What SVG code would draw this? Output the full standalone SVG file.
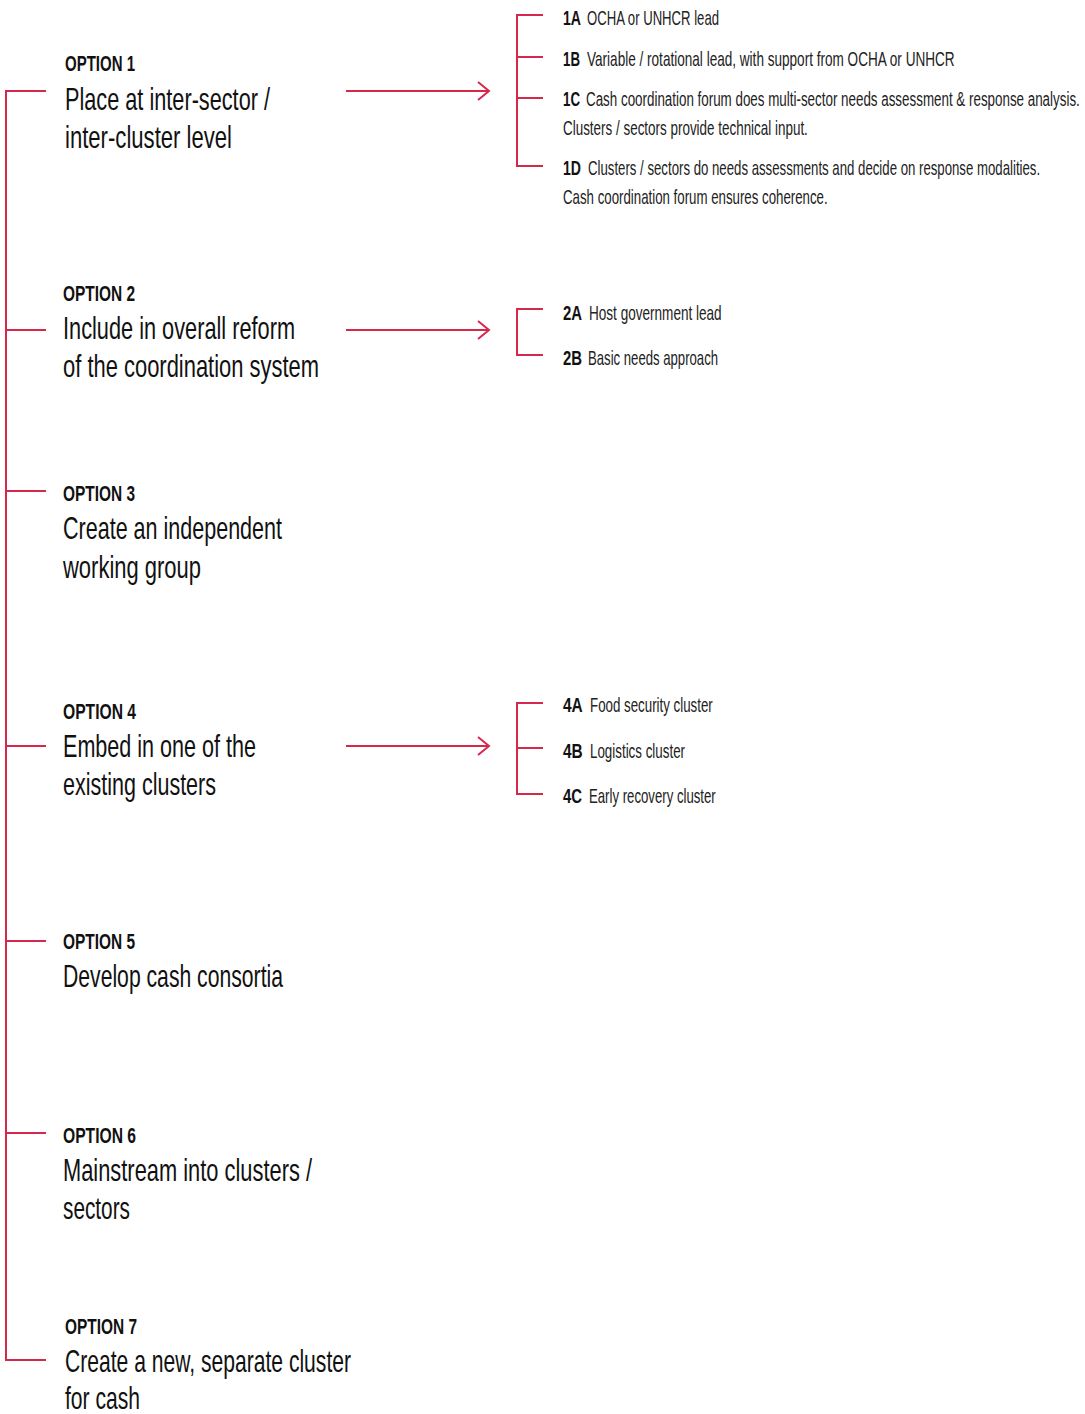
<svg xmlns="http://www.w3.org/2000/svg" width="1085" height="1414" viewBox="0 0 1085 1414">
<style>
.ln{stroke:#d6274c;stroke-width:2;fill:none}
.hd{font-family:"Liberation Sans",Arial,sans-serif;font-weight:bold;font-size:22px;fill:#111}
.tt{font-family:"Liberation Sans",Arial,sans-serif;font-size:32px;fill:#111}
.lb{font-family:"Liberation Sans",Arial,sans-serif;font-weight:bold;font-size:21px;fill:#111}
.st{font-family:"Liberation Sans",Arial,sans-serif;font-size:21px;fill:#222}
</style>
<defs>
<marker id="arr" markerUnits="userSpaceOnUse" markerWidth="14" markerHeight="22" refX="12" refY="10" orient="auto">
<path d="M1,1 L12,10 L1,19" fill="none" stroke="#d6274c" stroke-width="2"/>
</marker>
</defs>
<rect width="1085" height="1414" fill="#fff"/>
<g id="connectors">
<path class="ln" d="M46,91 H6 V1360 H46"/>
<path class="ln" d="M6,330 H46 M6,491 H46 M6,746 H46 M6,941 H46 M6,1133 H46"/>
<line class="ln" x1="346" y1="91" x2="489" y2="91" marker-end="url(#arr)"/>
<line class="ln" x1="346" y1="330" x2="489" y2="330" marker-end="url(#arr)"/>
<line class="ln" x1="346" y1="746" x2="489" y2="746" marker-end="url(#arr)"/>
<path class="ln" d="M543,15 H517 V166 H543 M517,57 H543 M517,98 H543"/>
<path class="ln" d="M543,309 H517 V355 H543"/>
<path class="ln" d="M543,703 H517 V794 H543 M517,748 H543"/>
</g>
<g id="option1">
<text class="hd" x="65" y="71" textLength="70" lengthAdjust="spacingAndGlyphs">OPTION 1</text>
<text class="tt" x="65" y="110" textLength="205" lengthAdjust="spacingAndGlyphs">Place at inter-sector /</text>
<text class="tt" x="65" y="148" textLength="167" lengthAdjust="spacingAndGlyphs">inter-cluster level</text>
</g>
<g id="option2">
<text class="hd" x="63" y="301" textLength="72" lengthAdjust="spacingAndGlyphs">OPTION 2</text>
<text class="tt" x="63" y="339" textLength="232" lengthAdjust="spacingAndGlyphs">Include in overall reform</text>
<text class="tt" x="63" y="377" textLength="256" lengthAdjust="spacingAndGlyphs">of the coordination system</text>
</g>
<g id="option3">
<text class="hd" x="63" y="501" textLength="72" lengthAdjust="spacingAndGlyphs">OPTION 3</text>
<text class="tt" x="63" y="539" textLength="219" lengthAdjust="spacingAndGlyphs">Create an independent</text>
<text class="tt" x="63" y="578" textLength="138" lengthAdjust="spacingAndGlyphs">working group</text>
</g>
<g id="option4">
<text class="hd" x="63" y="719" textLength="73" lengthAdjust="spacingAndGlyphs">OPTION 4</text>
<text class="tt" x="63" y="757" textLength="193" lengthAdjust="spacingAndGlyphs">Embed in one of the</text>
<text class="tt" x="63" y="795" textLength="153" lengthAdjust="spacingAndGlyphs">existing clusters</text>
</g>
<g id="option5">
<text class="hd" x="63" y="949" textLength="72" lengthAdjust="spacingAndGlyphs">OPTION 5</text>
<text class="tt" x="63" y="987" textLength="220" lengthAdjust="spacingAndGlyphs">Develop cash consortia</text>
</g>
<g id="option6">
<text class="hd" x="63" y="1143" textLength="73" lengthAdjust="spacingAndGlyphs">OPTION 6</text>
<text class="tt" x="63" y="1181" textLength="249" lengthAdjust="spacingAndGlyphs">Mainstream into clusters /</text>
<text class="tt" x="63" y="1219" textLength="67" lengthAdjust="spacingAndGlyphs">sectors</text>
</g>
<g id="option7">
<text class="hd" x="65" y="1334" textLength="72" lengthAdjust="spacingAndGlyphs">OPTION 7</text>
<text class="tt" x="65" y="1372" textLength="286" lengthAdjust="spacingAndGlyphs">Create a new, separate cluster</text>
<text class="tt" x="65" y="1409" textLength="75" lengthAdjust="spacingAndGlyphs">for cash</text>
</g>
<g id="sub1A">
<text class="lb" transform="translate(563,25) scale(0.68,1)" textLength="26.5" lengthAdjust="spacingAndGlyphs">1A</text>
<text class="st" transform="translate(587,25) scale(0.66,1)" textLength="200" lengthAdjust="spacingAndGlyphs">OCHA or UNHCR lead</text>
</g>
<g id="sub1B">
<text class="lb" transform="translate(563,66) scale(0.68,1)" textLength="25" lengthAdjust="spacingAndGlyphs">1B</text>
<text class="st" transform="translate(587,66) scale(0.66,1)" textLength="557" lengthAdjust="spacingAndGlyphs">Variable / rotational lead, with support from OCHA or UNHCR</text>
</g>
<g id="sub1C">
<text class="lb" transform="translate(563,106) scale(0.68,1)" textLength="25" lengthAdjust="spacingAndGlyphs">1C</text>
<text class="st" transform="translate(586,106) scale(0.6,1)" textLength="823" lengthAdjust="spacingAndGlyphs">Cash coordination forum does multi-sector needs assessment &amp;  response analysis.</text>
<text class="st" transform="translate(563,135) scale(0.66,1)" textLength="371" lengthAdjust="spacingAndGlyphs">Clusters / sectors provide technical input.</text>
</g>
<g id="sub1D">
<text class="lb" transform="translate(563,175) scale(0.68,1)" textLength="26.5" lengthAdjust="spacingAndGlyphs">1D</text>
<text class="st" transform="translate(588,175) scale(0.66,1)" textLength="685" lengthAdjust="spacingAndGlyphs">Clusters / sectors do needs assessments and decide on response modalities.</text>
<text class="st" transform="translate(563,204) scale(0.66,1)" textLength="401" lengthAdjust="spacingAndGlyphs">Cash coordination forum ensures coherence.</text>
</g>
<g id="sub2A">
<text class="lb" transform="translate(563,320) scale(0.68,1)" textLength="28" lengthAdjust="spacingAndGlyphs">2A</text>
<text class="st" transform="translate(589,320) scale(0.66,1)" textLength="201" lengthAdjust="spacingAndGlyphs">Host government lead</text>
</g>
<g id="sub2B">
<text class="lb" transform="translate(563,365) scale(0.68,1)" textLength="28" lengthAdjust="spacingAndGlyphs">2B</text>
<text class="st" transform="translate(588,365) scale(0.66,1)" textLength="197" lengthAdjust="spacingAndGlyphs">Basic needs approach</text>
</g>
<g id="sub4A">
<text class="lb" transform="translate(563,712) scale(0.68,1)" textLength="29" lengthAdjust="spacingAndGlyphs">4A</text>
<text class="st" transform="translate(590,712) scale(0.66,1)" textLength="186" lengthAdjust="spacingAndGlyphs">Food security cluster</text>
</g>
<g id="sub4B">
<text class="lb" transform="translate(563,758) scale(0.68,1)" textLength="29" lengthAdjust="spacingAndGlyphs">4B</text>
<text class="st" transform="translate(590,758) scale(0.66,1)" textLength="144" lengthAdjust="spacingAndGlyphs">Logistics cluster</text>
</g>
<g id="sub4C">
<text class="lb" transform="translate(563,803) scale(0.68,1)" textLength="28" lengthAdjust="spacingAndGlyphs">4C</text>
<text class="st" transform="translate(589,803) scale(0.66,1)" textLength="192" lengthAdjust="spacingAndGlyphs">Early recovery cluster</text>
</g>
</svg>
